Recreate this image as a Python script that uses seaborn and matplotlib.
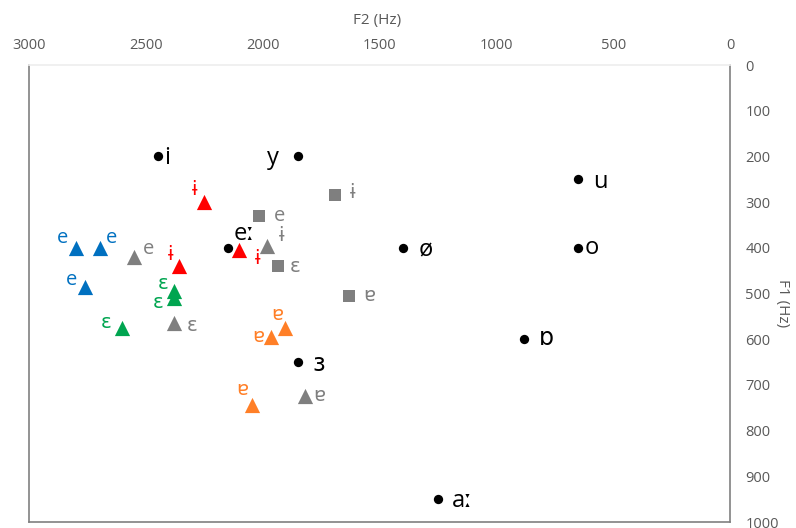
import matplotlib
matplotlib.use("Agg")
import matplotlib.pyplot as plt
import seaborn as sns
import pandas as pd

# vowel formant data (Hz)
black_f2 = [2450, 1850, 650, 650, 1400, 880, 2150, 1850, 1250]
black_f1 = [200, 200, 250, 400, 400, 600, 400, 650, 950]
black_lab = ["i", "y", "u", "o", "ø", "ɒ", "eː", "ɜ", "aː"]

red_f2 = [2250, 2360, 2100]
red_f1 = [300, 440, 405]
red_lab = ["ɨ", "ɨ", "ɨ"]

grey_tri_f2 = [2550, 1980, 2380, 1820]
grey_tri_f1 = [420, 395, 565, 725]
grey_tri_lab = ["e", "ɨ", "ɛ", "ɐ"]

grey_sq_f2 = [1690, 2015, 1935, 1630]
grey_sq_f1 = [285, 330, 440, 505]
grey_sq_lab = ["ɨ", "e", "ɛ", "ɐ"]

blue_f2 = [2800, 2695, 2760]
blue_f1 = [400, 400, 485]
blue_lab = ["e", "e", "e"]

green_f2 = [2380, 2380, 2600]
green_f1 = [495, 510, 575]
green_lab = ["ɛ", "ɛ", "ɛ"]

orange_f2 = [1905, 1965, 2045]
orange_f1 = [575, 595, 745]
orange_lab = ["ɐ", "ɐ", "ɐ"]

x_ticks = [3000, 2500, 2000, 1500, 1000, 500, 0]
y_ticks = [0, 100, 200, 300, 400, 500, 600, 700, 800, 900, 1000]

# label offsets in pixels (dx, dy up)
black_off = [(10, -2), (-25, -2), (22, -3), (14, 0), (23, -3), (22, 0), (17, 14), (21, -3), (25, -2)]
red_off = [(-10, 12), (-8, 11), (18, -9)]
grey_tri_off = [(14, 8), (14, 10), (18, -3), (15, 0)]
grey_sq_off = [(18, 2), (20, 0), (17, -1), (20, 0)]
blue_off = [(-13, 10), (11, 10), (-14, 7)]
green_off = [(-11, 7), (-16, -5), (-16, 5)]
orange_off = [(-8, 13), (-13, 0), (-10, 15)]

groups = [
    ("black", black_f2, black_f1, black_lab, black_off, "o", "black"),
    ("red", red_f2, red_f1, red_lab, red_off, "^", "#FF0000"),
    ("grey_tri", grey_tri_f2, grey_tri_f1, grey_tri_lab, grey_tri_off, "^", "#7F7F7F"),
    ("grey_sq", grey_sq_f2, grey_sq_f1, grey_sq_lab, grey_sq_off, "s", "#7F7F7F"),
    ("blue", blue_f2, blue_f1, blue_lab, blue_off, "^", "#0070C0"),
    ("green", green_f2, green_f1, green_lab, green_off, "^", "#00A550"),
    ("orange", orange_f2, orange_f1, orange_lab, orange_off, "^", "#FF7F27"),
]

rows = []
for name, f2, f1, lab, off, mk, col in groups:
    for a, b, l in zip(f2, f1, lab):
        rows.append({"F2": a, "F1": b, "group": name, "label": l})
df = pd.DataFrame(rows)

sns.set_theme(style="white")
plt.rcParams["font.family"] = ["Open Sans", "DejaVu Sans"]

fig = plt.figure(figsize=(7.96, 5.28), dpi=100)
ax = fig.add_axes([29 / 796, 1 - 522 / 528, 701 / 796, 457 / 528])

sizes = {"o": 45, "^": 120, "s": 85}

for name, f2, f1, lab, off, mk, col in groups:
    sub = df[df["group"] == name]
    sns.scatterplot(data=sub, x="F2", y="F1", marker=mk, color=col,
                    s=sizes[mk], linewidth=0, ax=ax, legend=False, zorder=3)
    fs = 17 if name == "black" else 14.5
    tcol = "black" if name == "black" else col
    for (_, r), (dx, dy) in zip(sub.iterrows(), off):
        ax.annotate(r["label"], (r["F2"], r["F1"]), xytext=(dx, dy),
                    textcoords="offset pixels", ha="center", va="center",
                    fontsize=fs, color=tcol)

ax.set_xlim(3000, 0)
ax.set_ylim(1000, 0)
ax.set_xticks(x_ticks)
ax.set_yticks(y_ticks)
ax.xaxis.tick_top()
ax.xaxis.set_label_position("top")
ax.yaxis.tick_right()
ax.yaxis.set_label_position("right")
ax.tick_params(axis="both", length=0, labelsize=10.5, labelcolor="#595959")
ax.tick_params(axis="x", pad=9)
ax.tick_params(axis="y", pad=11)
ax.set_xlabel("F2 (Hz)", fontsize=11, color="#595959")
ax.set_ylabel("F1 (Hz)", fontsize=11, color="#595959", rotation=270, va="center")
ax.xaxis.set_label_coords(0.497, 1.09)
ax.yaxis.set_label_coords(1.075, 0.48)

for side in ["left", "bottom", "right"]:
    ax.spines[side].set_color("#808080")
    ax.spines[side].set_linewidth(1.2)
ax.spines["top"].set_color("#EEEEEE")
ax.grid(False)

fig.savefig("out.png", dpi=100)
